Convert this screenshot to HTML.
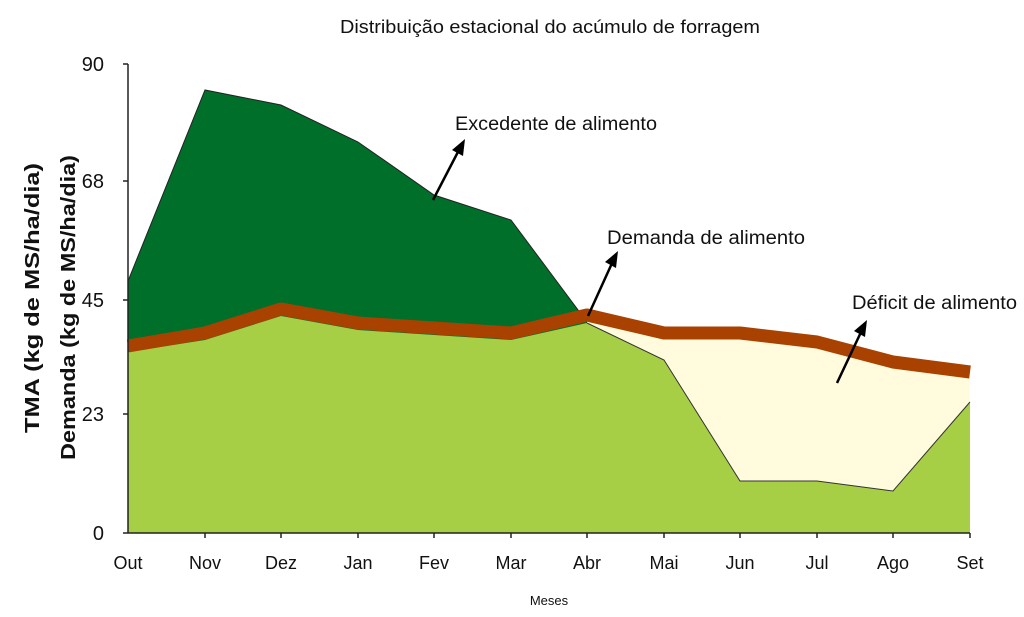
<!DOCTYPE html>
<html><head><meta charset="utf-8"><style>
html,body{margin:0;padding:0;background:#fff;}
svg{display:block;font-family:"Liberation Sans",sans-serif;}
</style></head><body>
<svg width="1024" height="617" viewBox="0 0 1024 617" xmlns="http://www.w3.org/2000/svg">
<rect width="1024" height="617" fill="#fff"/>
<text x="340" y="33" font-size="18" textLength="420" lengthAdjust="spacingAndGlyphs" fill="#111">Distribuição estacional do acúmulo de forragem</text>
<polygon points="128,281 205,90 281,105 358,142 434,195 511,220 587,322 587,533 128,533" fill="#006f2a" stroke="#222" stroke-width="1"/>
<polygon points="587,318 664,333 740,333 817,343 893,363 970,373 970,402 893,491 817,481 740,481 664,360 587,323" fill="#fffbdc"/>
<polygon points="128,352 205,340 281,316 358,330 434,335 511,340 587,323 664,360 740,481 817,481 893,491 970,402 970,533 128,533" fill="#a6cf46"/>
<polyline points="587,323 664,360 740,481 817,481 893,491 970,402" fill="none" stroke="#333" stroke-width="1"/>
<polyline points="128,346 205,333 281,309 358,323 434,328 511,333 587,315 664,333 740,333 817,342 893,362 970,372" fill="none" stroke="#a94200" stroke-width="13" stroke-linejoin="round"/>
<line x1="128" y1="64" x2="128" y2="533" stroke="#222" stroke-width="1.5"/>
<line x1="128" y1="533" x2="970" y2="533" stroke="#222" stroke-width="1.5"/>
<g stroke="#222" stroke-width="1.5">
<line x1="123" y1="64" x2="128" y2="64"/><line x1="123" y1="181" x2="128" y2="181"/><line x1="123" y1="300" x2="128" y2="300"/><line x1="123" y1="414" x2="128" y2="414"/><line x1="123" y1="533" x2="128" y2="533"/>
<line x1="205" y1="533" x2="205" y2="538"/><line x1="281" y1="533" x2="281" y2="538"/><line x1="358" y1="533" x2="358" y2="538"/><line x1="434" y1="533" x2="434" y2="538"/><line x1="511" y1="533" x2="511" y2="538"/><line x1="587" y1="533" x2="587" y2="538"/><line x1="664" y1="533" x2="664" y2="538"/><line x1="740" y1="533" x2="740" y2="538"/><line x1="817" y1="533" x2="817" y2="538"/><line x1="893" y1="533" x2="893" y2="538"/><line x1="970" y1="533" x2="970" y2="538"/>
</g>
<g font-size="20" fill="#111" text-anchor="end">
<text x="104" y="71">90</text><text x="104" y="188">68</text><text x="104" y="307">45</text><text x="104" y="421">23</text><text x="104" y="540">0</text>
</g>
<g font-size="18" fill="#111" text-anchor="middle">
<text x="128" y="569">Out</text><text x="205" y="569">Nov</text><text x="281" y="569">Dez</text><text x="358" y="569">Jan</text><text x="434" y="569">Fev</text><text x="511" y="569">Mar</text><text x="587" y="569">Abr</text><text x="664" y="569">Mai</text><text x="740" y="569">Jun</text><text x="817" y="569">Jul</text><text x="893" y="569">Ago</text><text x="970" y="569">Set</text>
</g>
<text x="549" y="605" font-size="13" text-anchor="middle" fill="#111">Meses</text>
<text transform="translate(39,433) rotate(-90)" font-size="20" font-weight="bold" textLength="270" lengthAdjust="spacingAndGlyphs" fill="#111">TMA (kg de MS/ha/dia)</text>
<text transform="translate(75,460) rotate(-90)" font-size="20" font-weight="bold" textLength="305" lengthAdjust="spacingAndGlyphs" fill="#111">Demanda (kg de MS/ha/dia)</text>
<g stroke="#000" stroke-width="2.5" fill="#000">
<line x1="433" y1="200" x2="460" y2="148"/>
<line x1="588" y1="316" x2="613" y2="261"/>
<line x1="837" y1="383" x2="862" y2="330"/>
</g>
<polygon points="465,139 463,156 452,150" fill="#000"/>
<polygon points="618,251 616,268 605,262" fill="#000"/>
<polygon points="867,320 865,337 854,331" fill="#000"/>
<g font-size="19" fill="#111">
<text x="455" y="130" textLength="202" lengthAdjust="spacingAndGlyphs">Excedente de alimento</text>
<text x="607" y="244" textLength="198" lengthAdjust="spacingAndGlyphs">Demanda de alimento</text>
<text x="852" y="309" textLength="165" lengthAdjust="spacingAndGlyphs">Déficit de alimento</text>
</g>
</svg>
</body></html>
